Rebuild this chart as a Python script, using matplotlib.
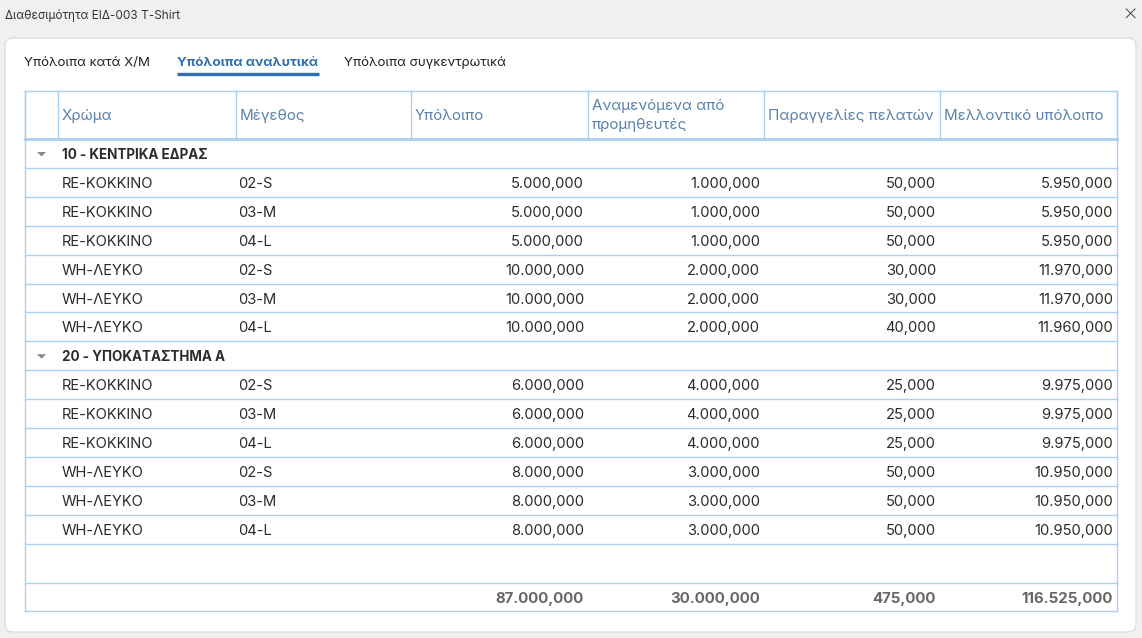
import matplotlib
matplotlib.use('Agg')
import matplotlib.pyplot as plt
from matplotlib.patches import FancyBboxPatch, Polygon

plt.rcParams['font.family'] = ['Inter', 'DejaVu Sans']

# Δεδομένα πίνακα
title = 'Διαθεσιμότητα ΕΙΔ-003 T-Shirt'
tabs = ['Υπόλοιπα κατά Χ/Μ', 'Υπόλοιπα αναλυτικά', 'Υπόλοιπα συγκεντρωτικά']
headers = ['Χρώμα', 'Μέγεθος', 'Υπόλοιπο', 'Αναμενόμενα από\nπρομηθευτές',
           'Παραγγελίες πελατών', 'Μελλοντικό υπόλοιπο']
groups = ['10 - ΚΕΝΤΡΙΚΑ ΕΔΡΑΣ', '20 - ΥΠΟΚΑΤΑΣΤΗΜΑ Α']
colors_ = ['RE-KOKKINO', 'RE-KOKKINO', 'RE-KOKKINO', 'WH-ΛΕΥΚΟ', 'WH-ΛΕΥΚΟ', 'WH-ΛΕΥΚΟ']
sizes = ['02-S', '03-M', '04-L', '02-S', '03-M', '04-L']
balance = [[5000, 5000, 5000, 10000, 10000, 10000],
           [6000, 6000, 6000, 8000, 8000, 8000]]
expected = [[1000, 1000, 1000, 2000, 2000, 2000],
            [4000, 4000, 4000, 3000, 3000, 3000]]
orders = [[50, 50, 50, 30, 30, 40],
          [25, 25, 25, 50, 50, 50]]
future = [[5950, 5950, 5950, 11970, 11970, 11960],
          [9975, 9975, 9975, 10950, 10950, 10950]]


def fmt(v):
    # ελληνική μορφή: τελεία για χιλιάδες, κόμμα για δεκαδικά
    return f'{v:,.3f}'.replace(',', 'X').replace('.', ',').replace('X', '.')


W, H = 1142, 638
fig = plt.figure(figsize=(W / 100, H / 100), dpi=100)
fig.patch.set_facecolor('#f0f0f0')
ax = fig.add_axes([0, 0, 1, 1])
ax.set_xlim(0, W)
ax.set_ylim(H, 0)
ax.axis('off')

FS = 10.6
DY = 1.6  # διόρθωση κατακόρυφης θέσης κειμένου
line_c = '#a9d0f0'
head_c = '#5b82ad'
text_c = '#2b2b2b'

# τίτλος παραθύρου
ax.text(5, 16, title, fontsize=8.5, color='#333333', va='center')
ax.text(1130, 15, '×', fontsize=17, color='#444444', va='center', ha='center',
        fontweight='light')

# κάρτα
card = FancyBboxPatch((5, 38), 1131, 594, boxstyle='round,pad=0,rounding_size=8',
                      facecolor='white', edgecolor='#d8d8d8', linewidth=0.8)
ax.add_patch(card)

# καρτέλες
tab_x = [24, 177, 344]
for i, (tx, t) in enumerate(zip(tab_x, tabs)):
    if i == 1:
        ax.text(tx, 63, t, fontsize=9.6, color='#2f6fae', fontweight='bold', va='center')
        ax.plot([tx, 319], [74, 74], color='#2f6fae', linewidth=2.4, solid_capstyle='butt')
    else:
        ax.text(tx, 63, t, fontsize=9.6, color='#222222', va='center')

# πίνακας
col_x = [25, 58, 236, 411, 588, 764, 940, 1117]
head_top, head_bot = 91, 139
row_h = 28.9

ax.plot([col_x[0], col_x[-1]], [head_top, head_top], color=line_c, linewidth=1)
ax.plot([col_x[0], col_x[-1]], [head_bot, head_bot], color=line_c, linewidth=2)
for cx in col_x:
    ax.plot([cx, cx], [head_top, head_bot], color=line_c, linewidth=1)
for i, h in enumerate(headers):
    ax.text(col_x[i + 1] + 4, (head_top + head_bot) / 2 + 0.5, h, fontsize=FS + 0.3,
            color=head_c, va='center', linespacing=1.5)

# γραμμές δεδομένων
y = head_bot
for g, name in enumerate(groups):
    yc = y + row_h / 2
    tri = Polygon([[37, yc - 1.5], [46, yc - 1.5], [41.5, yc + 3]], closed=True,
                  facecolor='#888888', edgecolor='none')
    ax.add_patch(tri)
    ax.text(62, yc + DY, name, fontsize=FS - 0.9, color=text_c, fontweight='bold', va='center')
    y += row_h
    ax.plot([col_x[0], col_x[-1]], [y, y], color=line_c, linewidth=1)
    for r in range(len(colors_)):
        yc = y + row_h / 2 + DY
        ax.text(62, yc, colors_[r], fontsize=FS, color=text_c, va='center')
        ax.text(238, yc, sizes[r], fontsize=FS, color=text_c, va='center')
        vals = [balance[g][r], expected[g][r], orders[g][r], future[g][r]]
        for k, v in enumerate(vals):
            ax.text(col_x[k + 4] - 4, yc, fmt(v), fontsize=FS, color=text_c,
                    va='center', ha='right')
        y += row_h
        ax.plot([col_x[0], col_x[-1]], [y, y], color=line_c, linewidth=1)

# κενή γραμμή και σύνολα
y += 39
ax.plot([col_x[0], col_x[-1]], [y, y], color=line_c, linewidth=1)
totals = [sum(balance[0]) + sum(balance[1]), sum(expected[0]) + sum(expected[1]),
          sum(orders[0]) + sum(orders[1]), sum(future[0]) + sum(future[1])]
yc = y + row_h / 2 + DY
for k, v in enumerate(totals):
    ax.text(col_x[k + 4] - 4, yc, fmt(v), fontsize=FS + 0.2, color='#666666',
            fontweight='bold', va='center', ha='right')
y += row_h
ax.plot([col_x[0], col_x[-1]], [y, y], color=line_c, linewidth=1)

# εξωτερικά πλαϊνά περιγράμματα
ax.plot([col_x[0], col_x[0]], [head_top, y], color=line_c, linewidth=1)
ax.plot([col_x[-1], col_x[-1]], [head_top, y], color=line_c, linewidth=1)

fig.savefig('out.png', dpi=100, facecolor=fig.get_facecolor())
